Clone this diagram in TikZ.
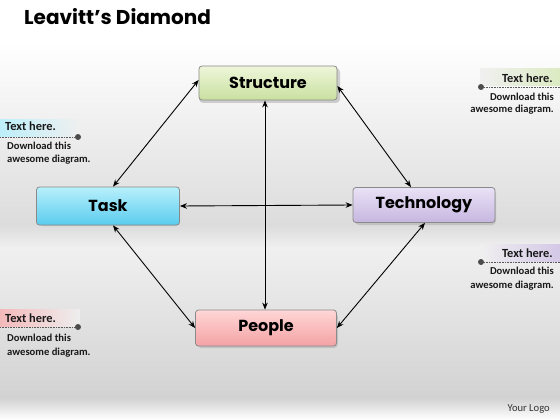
\documentclass[tikz,border=0pt]{standalone}
\usepackage{fontspec}
\setmainfont{Carlito}
\newfontfamily\geo{Poppins}
\usetikzlibrary{arrows.meta}
\definecolor{bgA}{HTML}{DCDCDC}
\definecolor{bgB}{HTML}{F0F0F0}
\definecolor{bgC}{HTML}{D2D2D2}
\definecolor{grA}{HTML}{EEF6DA}\definecolor{grB}{HTML}{C9E0A0}
\definecolor{cyA}{HTML}{B8F0FC}\definecolor{cyB}{HTML}{5ACCEE}
\definecolor{lvA}{HTML}{EAE2F6}\definecolor{lvB}{HTML}{C6B6E0}
\definecolor{pkA}{HTML}{FFD6D6}\definecolor{pkB}{HTML}{F4A2A4}
\definecolor{bord}{HTML}{8A8A8A}
\tikzset{
  boxbase/.style={rounded corners=3pt, minimum width=140pt, minimum height=35pt,
    draw=bord, line width=0.8pt, font=\geo\bfseries\fontsize{16}{18}\selectfont,
    text=black, inner sep=0pt},
  conn/.style={{Stealth[length=7pt,width=5.5pt]}-{Stealth[length=7pt,width=5.5pt]}, line width=0.9pt, black},
  anno/.style={font=\bfseries\fontsize{10.6}{12}\selectfont, text=black!90, inner sep=0pt},
  annohead/.style={font=\bfseries\fontsize{12.4}{14}\selectfont, text=black!90, inner sep=0pt},
  dotline/.style={densely dotted, gray!70!black, line width=0.6pt},
  pin/.style={circle, fill=gray!60!black, inner sep=0pt, minimum size=6pt}
}
\begin{document}
\begin{tikzpicture}[x=1pt,y=-1pt]
\useasboundingbox (0,0) rectangle (560,420);
% background
\fill[white] (0,0) rectangle (560,42);
\shade[top color=white, bottom color=bgA] (0,42) rectangle (560,225);
\shade[top color=bgA, bottom color=bgB] (0,225) rectangle (560,248);
\shade[top color=bgB, bottom color=bgC] (0,248) rectangle (560,398);
\shade[top color=bgC, bottom color=white] (0,398) rectangle (560,420);
% title
\node[anchor=west, inner sep=0pt, font=\geo\bfseries\fontsize{20}{22}\selectfont] (title) at (24,17) {Leavitt’s Diamond};
% shadows
\foreach \cx/\cy in {268/83, 108/206, 424/205, 266/328}
  \fill[black!30, rounded corners=4pt, opacity=0.6] (\cx-69,\cy-15) rectangle (\cx+72,\cy+20);
% boxes
\node[boxbase, minimum width=138pt, minimum height=34pt, top color=grA, bottom color=grB] (S) at (268,83) {Structure};
\node[boxbase, minimum width=143pt, minimum height=38pt, top color=cyA, bottom color=cyB] (T) at (108,206) {Task};
\node[boxbase, minimum width=142pt, minimum height=35pt, top color=lvA, bottom color=lvB] (Te) at (424,205) {Technology};
\node[boxbase, minimum width=141pt, minimum height=36pt, top color=pkA, bottom color=pkB] (P) at (266,328) {People};
% connectors
\draw[conn] ([xshift=5pt]T.north) -- ([yshift=3pt]S.west);
\draw[conn] ([yshift=-3pt]S.east) -- ([xshift=-13pt]Te.north);
\draw[conn] (T.east) -- (Te.west);
\draw[conn] ([xshift=-3pt]S.south) -- ([xshift=-1pt]P.north);
\draw[conn] ([xshift=5pt]T.south) -- (P.west);
\draw[conn] ([xshift=1pt]Te.south) -- (P.east);
% annotations
\shade[left color=cyA, right color=bgB, opacity=0.9] (0,119) rectangle (80,136);
\shade[left color=bgB, right color=grB!70, opacity=0.9] (480,69) rectangle (560,86);
\shade[left color=bgB, right color=lvB!80, opacity=0.9] (480,244) rectangle (560,261);
\shade[left color=pkB!80, right color=bgB, opacity=0.9] (0,309) rectangle (80,326);
\coordinate (l1) at (0,137); \node[pin] (p1) at (78,137) {}; \draw[dotline] (l1) -- (p1);
\coordinate (r1) at (560,87); \node[pin] (p2) at (481,87) {}; \draw[dotline] (p2) -- (r1);
\coordinate (r2) at (560,262); \node[pin] (p3) at (481,262) {}; \draw[dotline] (p3) -- (r2);
\coordinate (l2) at (0,327); \node[pin] (p4) at (78,327) {}; \draw[dotline] (l2) -- (p4);
\node[annohead, anchor=base west] (a1) at (5,131) {Text here.};
\node[anno, anchor=base west] (a2) at (7,149) {Download this};
\node[anno, anchor=base west] (a3) at (7,162) {awesome diagram.};
\node[annohead, anchor=base east] (b1) at (553,82) {Text here.};
\node[anno, anchor=base east] (b2) at (554,100) {Download this};
\node[anno, anchor=base east] (b3) at (554,113) {awesome diagram.};
\node[annohead, anchor=base east] (c1) at (553,257) {Text here.};
\node[anno, anchor=base east] (c2) at (554,274) {Download this};
\node[anno, anchor=base east] (c3) at (554,288) {awesome diagram.};
\node[annohead, anchor=base west] (d1) at (5,322) {Text here.};
\node[anno, anchor=base west] (d2) at (7,341) {Download this};
\node[anno, anchor=base west] (d3) at (7,355) {awesome diagram.};
\node[anchor=base east, inner sep=0pt, font=\fontsize{10.6}{12}\selectfont, text=black!80] (logo) at (550,411) {Your Logo};
\end{tikzpicture}
\end{document}
